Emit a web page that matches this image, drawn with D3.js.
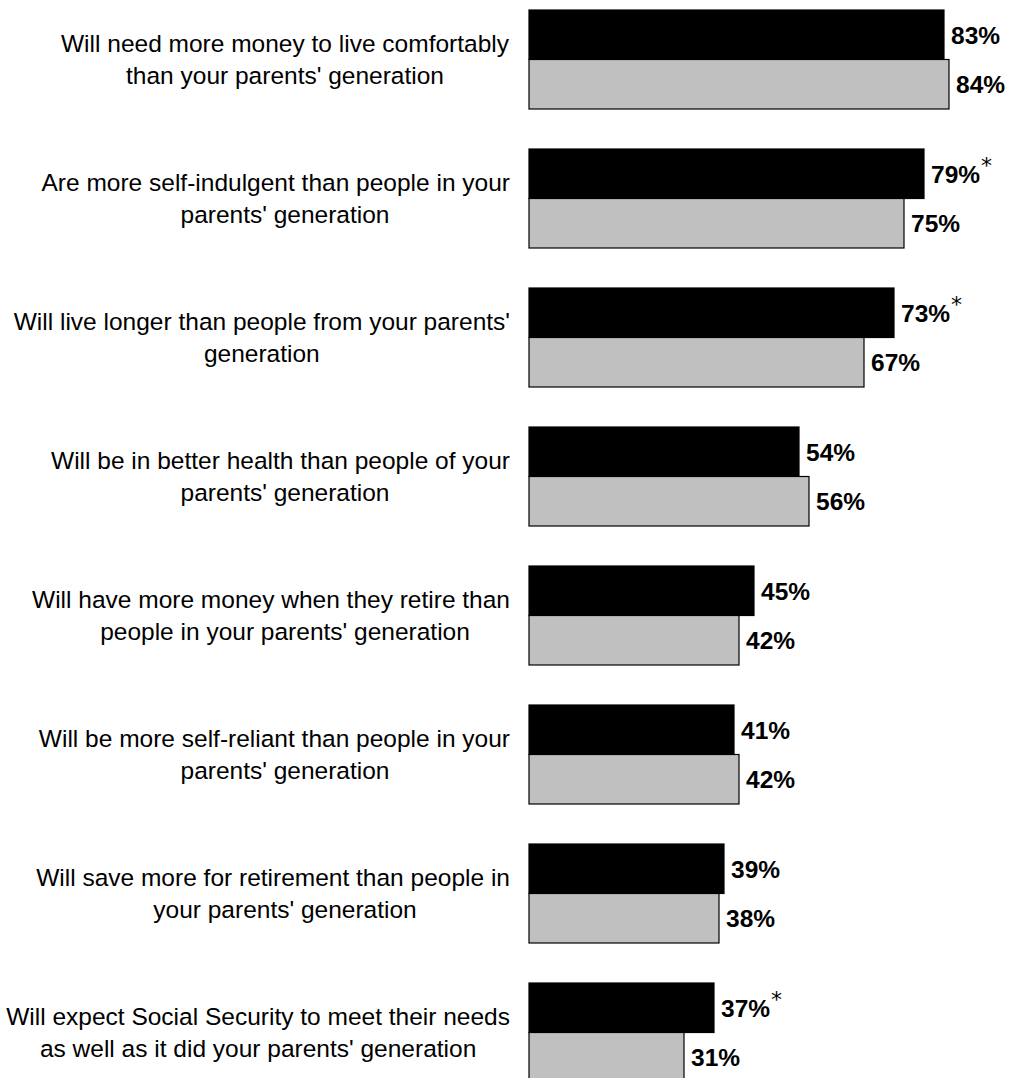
<!DOCTYPE html>
<html lang="en">
<head>
    <meta charset="UTF-8">
    <script src="https://cdn.jsdelivr.net/npm/d3@7"></script>
    <title>Parents' generation</title>
    <style>
        body { margin: 0; background: #fff; }
        svg { display: block; }
        .cat { font-family: Arial, "Liberation Sans", sans-serif; font-size: 24.5px; fill: #000; }
        .val { font-family: Arial, "Liberation Sans", sans-serif; font-size: 24.5px; font-weight: bold; fill: #000; }
    </style>
</head>
<body>
<script>
    /*------------------- data --------------------*/
    // statement text, already broken into lines as in the chart
    const categories = [
        ["Will need more money to live comfortably", "than your parents' generation"],
        ["Are more self-indulgent than people in your", "parents' generation"],
        ["Will live longer than people from your parents'", "generation"],
        ["Will be in better health than people of your", "parents' generation"],
        ["Will have more money when they retire than", "people in your parents' generation"],
        ["Will be more self-reliant than people in your", "parents' generation"],
        ["Will save more for retirement than people in", "your parents' generation"],
        ["Will expect Social Security to meet their needs", "as well as it did your parents' generation"]
    ];
    // black bars
    const seriesA = [83, 79, 73, 54, 45, 41, 39, 37];
    // grey bars
    const seriesB = [84, 75, 67, 56, 42, 42, 38, 31];
    // asterisk next to the black value
    const significant = [false, true, true, false, false, false, false, true];

    /*------------------- layout --------------------*/
    const width = 1017, height = 1078;
    const barLeft = 529;
    const textCenter = 285, textRight = 510;

    const svg = d3.select("body").append("svg")
        .attr("width", width)
        .attr("height", height);

    const x = d3.scaleLinear().domain([0, 100]).range([barLeft, barLeft + 500]);

    const y = d3.scaleBand()
        .domain(d3.range(categories.length))
        .range([10, 1082])
        .paddingInner(40 / 139)
        .paddingOuter(0);

    const series = [
        {key: "a", values: seriesA, fill: "#000000"},
        {key: "b", values: seriesB, fill: "#c0c0c0"}
    ];

    const ySub = d3.scaleBand()
        .domain(series.map(s => s.key))
        .range([0, y.bandwidth()]);

    const groups = svg.selectAll("g.group")
        .data(categories)
        .enter()
        .append("g")
        .attr("class", "group")
        .attr("transform", (d, i) => `translate(0,${y(i)})`);

    // bars
    series.forEach(s => {
        groups.append("rect")
            .attr("x", x(0))
            .attr("y", ySub(s.key))
            .attr("width", (d, i) => x(s.values[i]) - x(0))
            .attr("height", ySub.bandwidth())
            .attr("fill", s.fill)
            .attr("stroke", "#000")
            .attr("stroke-width", 1.2);
    });

    // value labels
    series.forEach(s => {
        const t = groups.append("text")
            .attr("class", "val")
            .attr("x", (d, i) => x(s.values[i]) + 7)
            .attr("y", ySub(s.key) + ySub.bandwidth() / 2)
            .attr("dy", "0.36em");
        t.append("tspan").text((d, i) => s.values[i] + "%");
        if (s.key === "a") {
            t.filter((d, i) => significant[i])
                .append("tspan")
                .attr("dy", "-0.42em")
                .attr("dx", 1)
                .style("font-weight", "normal")
                .style("font-family", "'DejaVu Sans', sans-serif")
                .style("font-size", "22px")
                .text("*");
        }
    });

    // category labels, centred, pushed left when a line runs into the bars
    const lineGap = 32;
    groups.each(function (lines) {
        const g = d3.select(this);
        const mid = y.bandwidth() / 2;
        const texts = lines.map((ln, k) => g.append("text")
            .attr("class", "cat")
            .attr("text-anchor", "middle")
            .attr("y", mid + (k - (lines.length - 1) / 2) * lineGap)
            .attr("dy", "0.36em")
            .text(ln));
        const widths = texts.map(t => t.node().getComputedTextLength());
        const maxW = d3.max(widths);
        const overflow = textCenter + maxW / 2 - textRight;
        texts.forEach((t, k) => {
            let cx;
            if (overflow > 17) cx = textRight - maxW / 2;
            else cx = Math.min(textCenter, textRight - widths[k] / 2);
            t.attr("x", cx);
        });
    });
</script>
</body>
</html>
